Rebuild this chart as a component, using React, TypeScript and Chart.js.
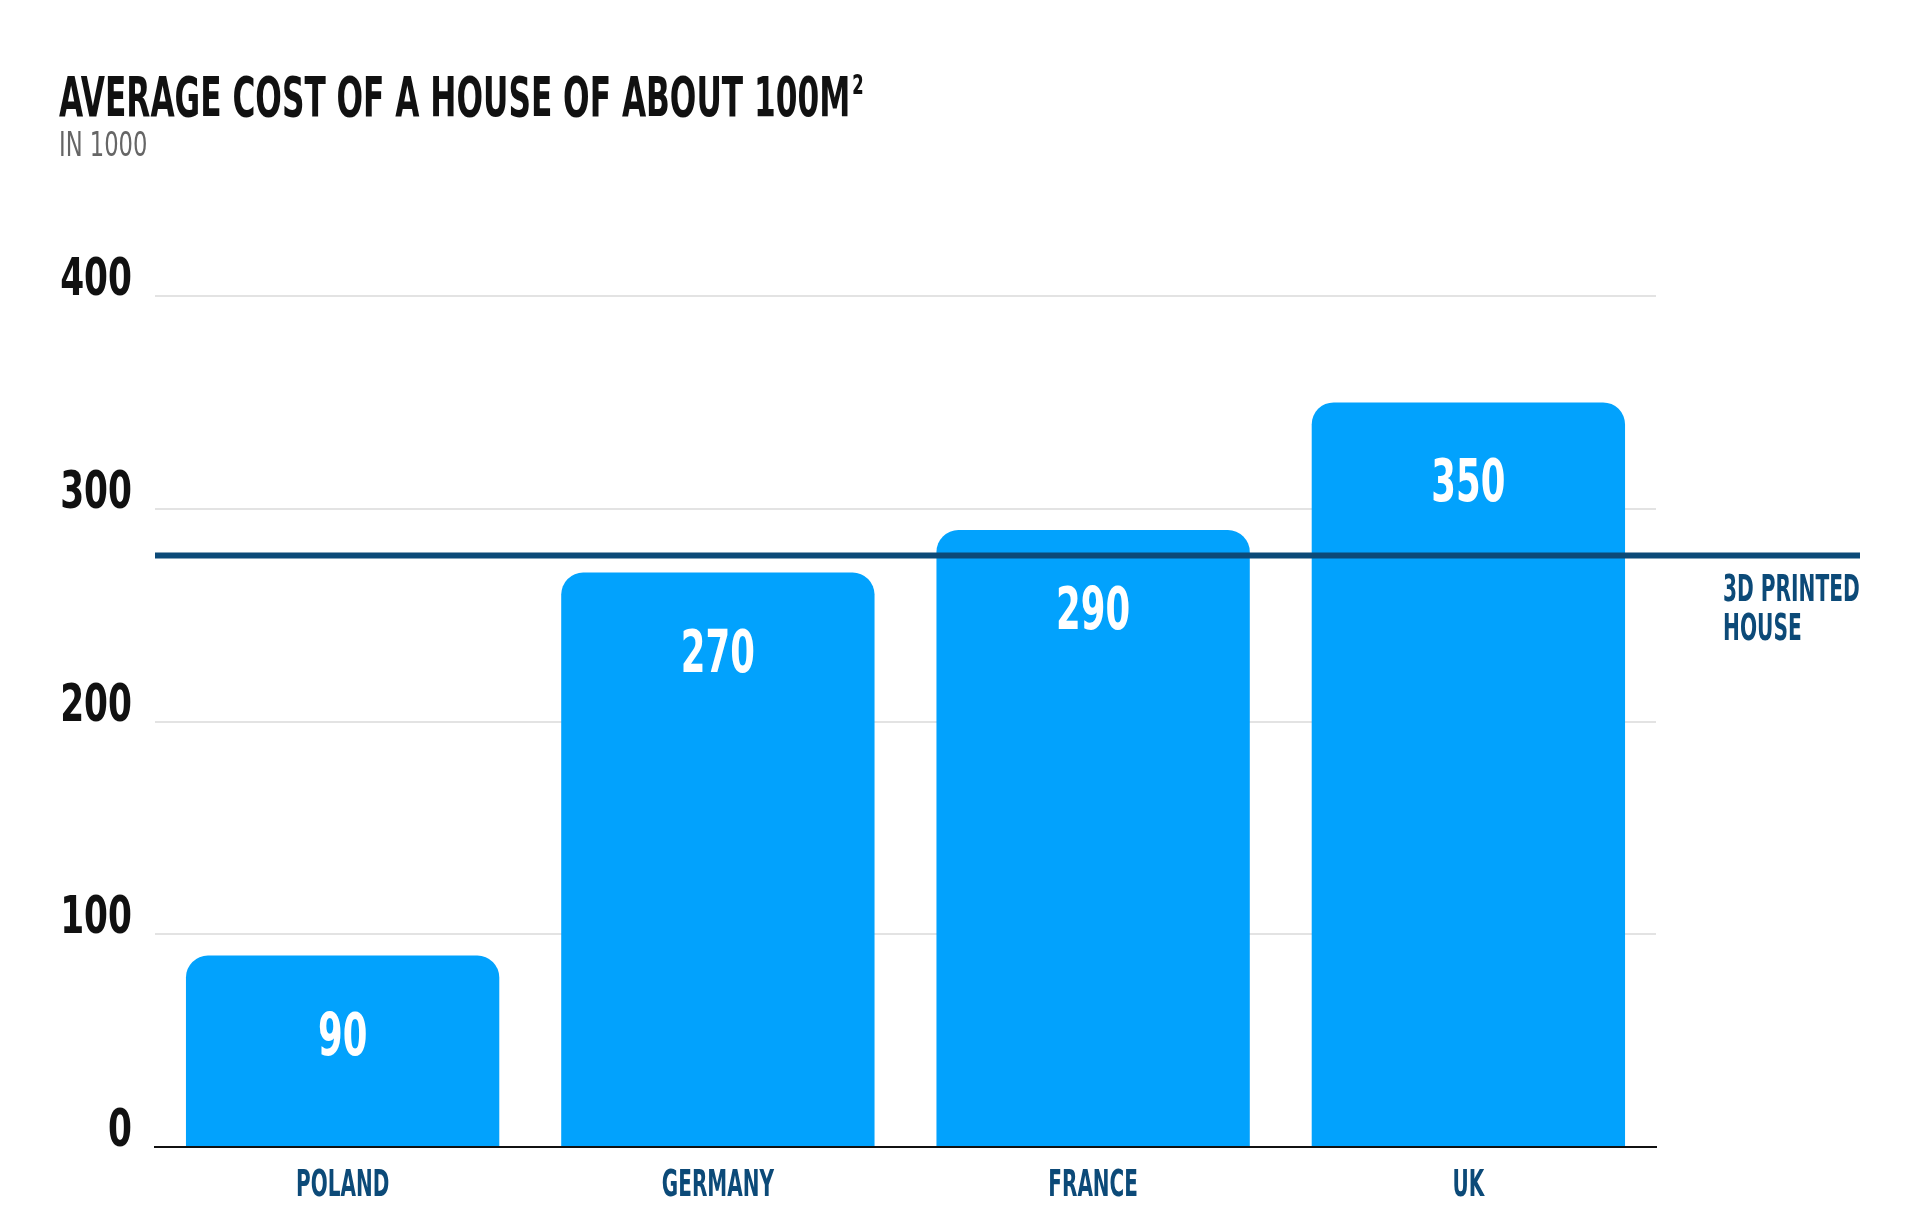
import React, { useEffect, useRef } from 'react';
import { Chart, registerables } from 'chart.js';

Chart.register(...registerables);

const countries = ['POLAND', 'GERMANY', 'FRANCE', 'UK'];
const houseCost = [90, 270, 290, 350];
const yTickValues = [0, 100, 200, 300, 400];
const printedHouseCost = 278;
const printedHouseLabel = ['3D PRINTED', 'HOUSE'];

const NARROW = '"Liberation Sans Narrow", "DejaVu Sans Condensed", sans-serif';
const BAR_BLUE = '#02a2fd';
const DARK_BLUE = '#0c4a78';

// canvas text squeezed sideways, the original uses a very condensed face
function squeezedText(ctx: CanvasRenderingContext2D, text: string, x: number, y: number, sx: number, align: CanvasTextAlign) {
  ctx.save();
  ctx.translate(x, y);
  ctx.scale(sx, 1);
  ctx.textAlign = align;
  ctx.textBaseline = 'alphabetic';
  ctx.fillText(text, 0, 0);
  ctx.restore();
}

const overlayPlugin = {
  id: 'overlay',
  afterDatasetsDraw(chart: any) {
    const { ctx, chartArea, scales } = chart;
    const meta = chart.getDatasetMeta(0);
    ctx.save();

    // y tick labels, sitting on their grid lines
    ctx.fillStyle = '#111111';
    ctx.font = `bold 51px ${NARROW}`;
    yTickValues.forEach((v) =>
      squeezedText(ctx, String(v), chartArea.left - 23, scales.y.getPixelForValue(v) - 1, 0.75, 'right')
    );

    // 3D printed house line
    const y = scales.y.getPixelForValue(printedHouseCost);
    ctx.strokeStyle = DARK_BLUE;
    ctx.lineWidth = 6;
    ctx.beginPath();
    ctx.moveTo(chartArea.left, y);
    ctx.lineTo(chartArea.right + 204, y);
    ctx.stroke();

    ctx.fillStyle = DARK_BLUE;
    ctx.font = `bold 38px ${NARROW}`;
    printedHouseLabel.forEach((line, i) =>
      squeezedText(ctx, line, chartArea.right + 67, y + 45 + i * 39, 0.59, 'left')
    );

    // category names under the axis
    countries.forEach((c, i) =>
      squeezedText(ctx, c, scales.x.getPixelForValue(i), chartArea.bottom + 49, 0.585, 'center')
    );

    // values inside the bars
    ctx.fillStyle = '#ffffff';
    ctx.font = `bold 58px ${NARROW}`;
    meta.data.forEach((bar: any, i: number) => {
      squeezedText(ctx, String(houseCost[i]), bar.x, bar.y + 99, 0.68, 'center');
    });

    ctx.restore();
  },
};

const App: React.FC = () => {
  const canvasRef = useRef<HTMLCanvasElement | null>(null);

  useEffect(() => {
    if (!canvasRef.current) return;
    const chart = new Chart(canvasRef.current, {
      type: 'bar',
      data: {
        labels: countries,
        datasets: [
          {
            data: houseCost,
            backgroundColor: BAR_BLUE,
            borderRadius: { topLeft: 22, topRight: 22, bottomLeft: 0, bottomRight: 0 },
            barPercentage: 0.835,
            categoryPercentage: 1,
          },
        ],
      },
      options: {
        responsive: false,
        animation: false,
        events: [],
        layout: { padding: { left: 0, top: 296, right: 264, bottom: 85 } },
        plugins: {
          legend: { display: false },
          tooltip: { enabled: false },
        },
        scales: {
          x: {
            grid: { display: false },
            border: { display: true, color: '#111111', width: 2 },
            ticks: { display: false },
            afterFit: (s: any) => {
              s.height = 0;
              s.paddingLeft = 0;
              s.paddingRight = 0;
            },
          },
          y: {
            min: 0,
            max: 400,
            afterBuildTicks: (s: any) => {
              s.ticks = yTickValues.map((v) => ({ value: v }));
            },
            grid: {
              color: (c: any) => (c.tick && c.tick.value === 0 ? 'rgba(0,0,0,0)' : '#e3e3e3'),
              lineWidth: 2,
              drawTicks: false,
            },
            border: { display: false },
            ticks: { display: false },
            afterFit: (s: any) => {
              s.width = 155;
              s.paddingTop = 0;
              s.paddingBottom = 0;
            },
          },
        },
      },
      plugins: [overlayPlugin],
    } as any);
    return () => chart.destroy();
  }, []);

  return (
    <div style={{ position: 'fixed', left: 0, top: 0, width: 1920, height: 1232, background: '#fff' }}>
      <canvas ref={canvasRef} width={1920} height={1232} style={{ display: 'block' }} />
      <div
        style={{
          position: 'absolute',
          left: 59,
          top: 68,
          fontFamily: NARROW,
          fontWeight: 700,
          fontSize: 56,
          lineHeight: '57px',
          color: '#111',
          whiteSpace: 'nowrap',
          transform: 'scaleX(0.62)',
          transformOrigin: 'left top',
        }}
      >
        AVERAGE COST OF A HOUSE OF ABOUT 100M
        <span style={{ fontSize: 48, position: 'relative', top: -6, marginLeft: 3 }}>²</span>
      </div>
      <div
        style={{
          position: 'absolute',
          left: 59,
          top: 127,
          fontFamily: NARROW,
          fontSize: 34,
          lineHeight: '35px',
          color: '#666',
          whiteSpace: 'nowrap',
          transform: 'scaleX(0.74)',
          transformOrigin: 'left top',
        }}
      >
        IN 1000
      </div>
    </div>
  );
};

export default App;
